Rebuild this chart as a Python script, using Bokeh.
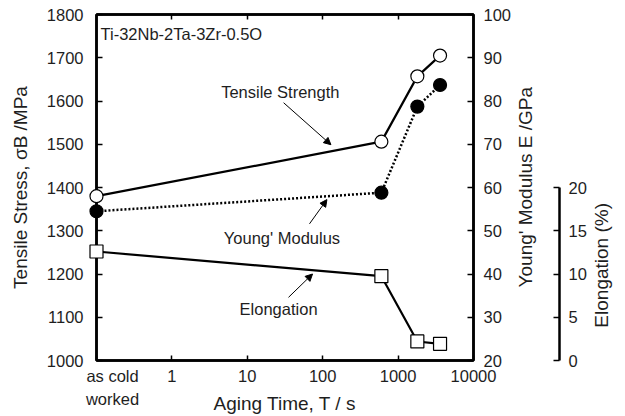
import math

from bokeh.plotting import figure
from bokeh.models import Range1d, LinearAxis, LogAxis, FixedTicker, Label, Arrow, NormalHead
from bokeh.embed import file_html
from bokeh.resources import INLINE

FONT = "Liberation Sans"
FS = "16.5px"        # tick labels and notes
TITLE_FS = "19px"    # axis titles
INK = "#1e1e1e"
NBSP = "\u00a0"

# Aging time (s); 0.1 stands for the as-cold-worked state
aging_time = [0.1, 600, 1800, 3600]
tensile_strength = [1380, 1506, 1657, 1705]   # MPa
youngs_modulus = [54.5, 58.8, 78.7, 83.7]     # GPa
elongation = [12.6, 9.75, 2.2, 1.93]          # %

x_ticks = [0.1, 1, 10, 100, 1000, 10000]
x_tick_labels = ["as cold\nworked", "1", "10", "100", "1000", "10000"]
stress_ticks = [1000, 1100, 1200, 1300, 1400, 1500, 1600, 1700, 1800]
modulus_ticks = [20, 30, 40, 50, 60, 70, 80, 90, 100]
elong_ticks = [0, 5, 10, 15, 20]

p = figure(width=625, height=416, x_axis_type="log",
           x_range=Range1d(0.1, 10000), y_range=Range1d(1000, 1800),
           output_backend="svg", toolbar_location=None,
           min_border_left=96, min_border_right=152,
           min_border_top=14, min_border_bottom=56)
p.extra_y_ranges = {"mod": Range1d(20, 100), "elong": Range1d(0, 40)}
p.xgrid.visible = False
p.ygrid.visible = False
p.outline_line_color = "black"
p.outline_line_width = 2.5
p.background_fill_color = "white"
p.border_fill_color = "white"


def style_axis(ax, ticks, standoff, label_standoff, tick_len=6):
    ax.ticker = FixedTicker(ticks=ticks, minor_ticks=[])
    ax.major_tick_in = tick_len
    ax.major_tick_out = 0
    ax.minor_tick_in = 0
    ax.minor_tick_out = 0
    ax.axis_line_width = 2.5
    ax.axis_line_color = "black"
    ax.major_tick_line_width = 1.5
    ax.major_tick_line_color = "black"
    ax.major_label_text_font = FONT
    ax.major_label_text_font_size = FS
    ax.major_label_text_color = INK
    ax.axis_label_text_font = FONT
    ax.axis_label_text_font_size = TITLE_FS
    ax.axis_label_text_font_style = "normal"
    ax.axis_label_text_color = INK
    ax.major_label_standoff = standoff
    ax.axis_label_standoff = label_standoff


def title_axis(range_name, start, title, standoff):
    # a bare right-hand axis whose single tick label carries an upward-reading title,
    # starting at `start` (in that range's units)
    ax = LinearAxis(y_range_name=range_name,
                    ticker=FixedTicker(ticks=[start], minor_ticks=[]),
                    major_label_overrides={start: title},
                    major_label_orientation=math.pi / 2,
                    major_label_standoff=standoff,
                    major_label_text_font=FONT, major_label_text_font_size=TITLE_FS,
                    major_label_text_color=INK,
                    axis_line_color=None, major_tick_line_color=None,
                    major_tick_in=0, major_tick_out=0, minor_tick_in=0, minor_tick_out=0)
    p.add_layout(ax, "right")
    return ax


# bottom (log time) axis; the first label sits a little right of its tick
def padded(label, n):
    return "\n".join(NBSP * n + line for line in label.split("\n"))


xax = p.xaxis[0]
style_axis(xax, x_ticks, 6, -18, tick_len=5)
overrides = {t: s for t, s in zip(x_ticks, x_tick_labels)}
overrides[x_ticks[0]] = padded(x_tick_labels[0], 7)
xax.major_label_overrides = overrides
xax.major_label_text_line_height = 1.3
xax.axis_label = "Aging Time, T / s"

# left (stress) axis
yax = p.yaxis[0]
style_axis(yax, stress_ticks, 13, 13)
yax.axis_label = "Tensile Stress, σB /MPa"

# top frame ticks, no labels
top = LogAxis()
style_axis(top, x_ticks[1:-1], 0, 0, tick_len=5)
top.major_label_overrides = {t: "" for t in x_ticks[1:-1]}
p.add_layout(top, "above")

# right: Young's modulus axis and its title
mod_ax = LinearAxis(y_range_name="mod")
style_axis(mod_ax, modulus_ticks, 10, 0)
p.add_layout(mod_ax, "right")
title_axis("mod", 36.9, "Young' Modulus E /GPa", 11)

# blank spacer before the elongation axis
gap_ax = LinearAxis(y_range_name="elong", ticker=FixedTicker(ticks=[5], minor_ticks=[]),
                    major_label_overrides={5: ""}, axis_line_color=None,
                    major_tick_line_color=None, major_tick_in=0, major_tick_out=10,
                    minor_tick_in=0, minor_tick_out=0, major_label_standoff=0)
p.add_layout(gap_ax, "right")

# right: elongation axis, spanning 0-20 %, and its title
el_ax = LinearAxis(y_range_name="elong", bounds=(0, 20))
style_axis(el_ax, elong_ticks, 9, 0)
p.add_layout(el_ax, "right")
title_axis("elong", 3.8, "Elongation (%)", 12)

# series lines
p.line(aging_time, tensile_strength, line_color="black", line_width=2.2, level="overlay")
p.line(aging_time, youngs_modulus, y_range_name="mod", line_color="black",
       line_width=2.5, line_dash="2 2", level="overlay")
p.line(aging_time, elongation, y_range_name="elong", line_color="black",
       line_width=2.2, level="overlay")

# markers
p.scatter(aging_time, tensile_strength, marker="circle", size=13,
          fill_color="white", line_color="black", line_width=1.2, level="overlay")
p.scatter(aging_time, youngs_modulus, y_range_name="mod", marker="circle", size=13,
          fill_color="black", line_color="black", line_width=1.2, level="overlay")
p.scatter(aging_time, elongation, y_range_name="elong", marker="square", size=13,
          fill_color="white", line_color="black", line_width=1.2, level="overlay")


def text(x, y, s, align="center"):
    p.add_layout(Label(x=x, y=y, text=s, text_align=align, text_baseline="middle",
                       text_font=FONT, text_font_size=FS, text_color=INK))


def arrow(x0, y0, x1, y1):
    p.add_layout(Arrow(x_start=x0, y_start=y0, x_end=x1, y_end=y1,
                       line_color="black", line_width=1,
                       end=NormalHead(size=7, fill_color="black", line_color="black")))


text(0.113, 1755, "Ti-32Nb-2Ta-3Zr-0.5O", align="left")
text(27.4, 1620, "Tensile Strength")
arrow(30.3, 1596, 128.5, 1499)
text(28.8, 1283, "Young' Modulus")
arrow(66.8, 1316, 113.7, 1372)
text(26.0, 1120, "Elongation")
arrow(35.2, 1146, 73.3, 1200)

open("out.html", "w").write(file_html(p, INLINE))
